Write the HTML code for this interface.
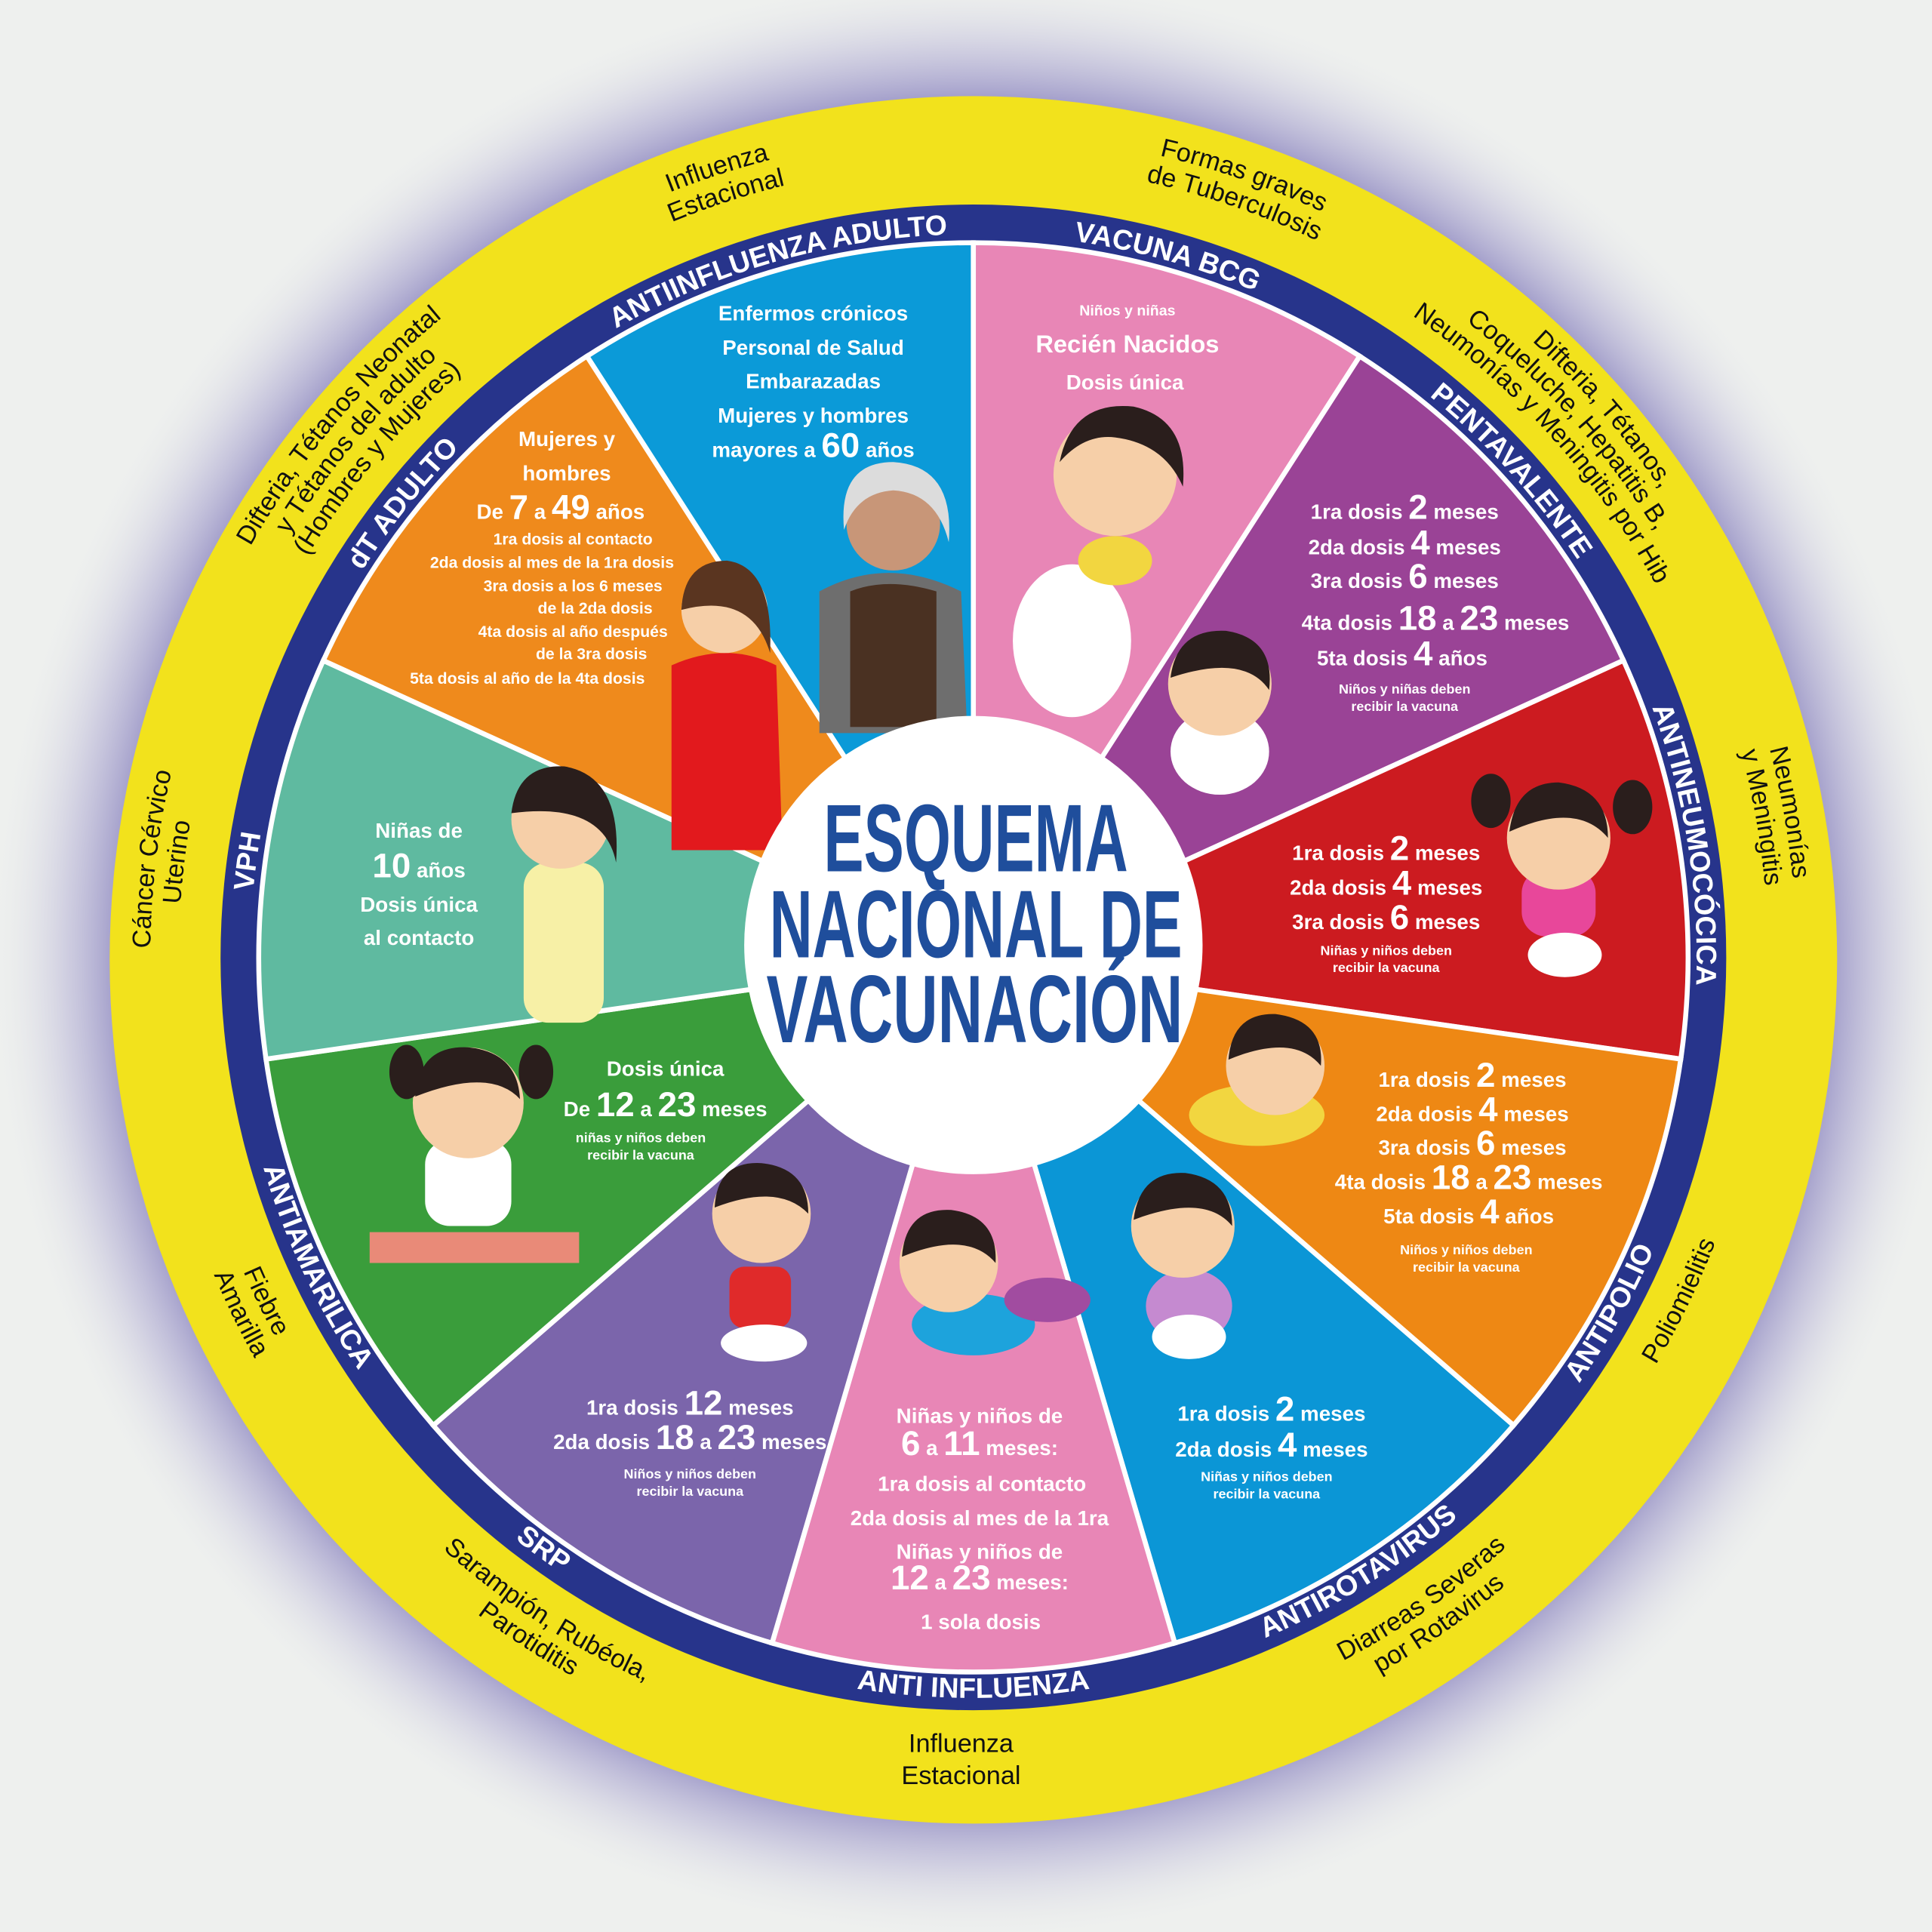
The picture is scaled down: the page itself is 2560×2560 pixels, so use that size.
<!DOCTYPE html>
<html><head><meta charset="utf-8"><style>
html,body{margin:0;padding:0;background:#eef0ee;}
svg{display:block}
.w{fill:#fff;font-family:"Liberation Sans",sans-serif;font-weight:bold;text-anchor:middle}
.rg{fill:#fff;font-family:"Liberation Sans",sans-serif;font-weight:bold;font-size:23px}
.yl{fill:#111;font-family:"Liberation Sans",sans-serif;font-size:21px}
</style></head><body>
<svg width="2560" height="2560" viewBox="0 0 1568 1568" xmlns="http://www.w3.org/2000/svg">
<defs>
<radialGradient id="halo" cx="790" cy="777" r="800" gradientUnits="userSpaceOnUse">
<stop offset="0.84" stop-color="#6e66b0" stop-opacity="0.9"/>
<stop offset="0.92" stop-color="#a9a4d0" stop-opacity="0.45"/>
<stop offset="1" stop-color="#eef0ee" stop-opacity="0"/>
</radialGradient>
<path id="cw587" d="M790,1364 A587,587 0 1 1 790,190 A587,587 0 1 1 790,1364"/>
<path id="cw631" d="M790,1408 A631,631 0 1 1 790,146 A631,631 0 1 1 790,1408"/>
<path id="cw645" d="M790,1422 A645,645 0 1 1 790,132 A645,645 0 1 1 790,1422"/>
<path id="cw653" d="M790,1430 A653,653 0 1 1 790,124 A653,653 0 1 1 790,1430"/>
<path id="cw668" d="M790,1445 A668,668 0 1 1 790,109 A668,668 0 1 1 790,1445"/>
<path id="cw675" d="M790,1452 A675,675 0 1 1 790,102 A675,675 0 1 1 790,1452"/>
<path id="ccw601" d="M790,176 A601,601 0 1 0 790,1378 A601,601 0 1 0 790,176"/>
<path id="ccw645" d="M790,132 A645,645 0 1 0 790,1422 A645,645 0 1 0 790,132"/>
<path id="ccw668" d="M790,109 A668,668 0 1 0 790,1445 A668,668 0 1 0 790,109"/>
<path id="wedge" d="M790,777 L790,197 A580,580 0 0 1 1103.5,289 Z"/>
</defs>
<rect width="1568" height="1568" fill="#eef0ee"/>
<circle cx="790" cy="777" r="800" fill="url(#halo)"/>
<circle cx="790" cy="779" r="701" fill="#f2e21c"/>
<circle cx="790" cy="777" r="611" fill="#27348b"/>
<g stroke="#fff" stroke-width="4">
<use href="#wedge" fill="#e886b6"/>
<use href="#wedge" fill="#9a4396" transform="rotate(32.727 790 777)"/>
<use href="#wedge" fill="#cc1b20" transform="rotate(65.455 790 777)"/>
<use href="#wedge" fill="#ee8814" transform="rotate(98.182 790 777)"/>
<use href="#wedge" fill="#0b96d6" transform="rotate(130.909 790 777)"/>
<use href="#wedge" fill="#e886b6" transform="rotate(163.636 790 777)"/>
<use href="#wedge" fill="#7b65ab" transform="rotate(196.364 790 777)"/>
<use href="#wedge" fill="#3a9d3b" transform="rotate(229.091 790 777)"/>
<use href="#wedge" fill="#5fbaa0" transform="rotate(261.818 790 777)"/>
<use href="#wedge" fill="#ef8a1c" transform="rotate(294.545 790 777)"/>
<use href="#wedge" fill="#0b9ad8" transform="rotate(327.273 790 777)"/>
</g>

<!-- figures -->
<g>
<!-- BCG baby -->
<ellipse cx="870" cy="520" rx="48" ry="62" fill="#fff"/>
<ellipse cx="905" cy="455" rx="30" ry="20" fill="#f2d640"/>
<circle cx="905" cy="385" r="50" fill="#f6cfa8"/>
<path d="M860,375 Q870,325 920,330 Q965,340 960,395 Q945,360 905,355 Q880,352 860,375Z" fill="#2a1e1c"/>
<!-- penta baby -->
<ellipse cx="990" cy="610" rx="40" ry="35" fill="#fff"/>
<circle cx="990" cy="555" r="42" fill="#f6cfa8"/>
<path d="M950,550 Q955,510 995,512 Q1035,518 1030,560 Q1010,530 950,550Z" fill="#2a1e1c"/>
<!-- red girl -->
<rect x="1235" y="705" width="60" height="55" rx="20" fill="#e8479a"/>
<ellipse cx="1270" cy="775" rx="30" ry="18" fill="#fff"/>
<circle cx="1265" cy="680" r="42" fill="#f6cfa8"/>
<path d="M1225,675 Q1230,635 1265,635 Q1305,640 1305,680 Q1280,650 1225,675Z" fill="#2a1e1c"/>
<ellipse cx="1210" cy="650" rx="16" ry="22" fill="#2a1e1c"/>
<ellipse cx="1325" cy="655" rx="16" ry="22" fill="#2a1e1c"/>
<!-- polio baby -->
<ellipse cx="1020" cy="905" rx="55" ry="25" fill="#f2d640"/>
<circle cx="1035" cy="865" r="40" fill="#f6cfa8"/>
<path d="M997,860 Q1000,822 1035,823 Q1075,828 1072,865 Q1050,838 997,860Z" fill="#2a1e1c"/>
<!-- rotavirus girl -->
<ellipse cx="965" cy="1060" rx="35" ry="30" fill="#c58ad0"/>
<ellipse cx="965" cy="1085" rx="30" ry="18" fill="#fff"/>
<circle cx="960" cy="995" r="42" fill="#f6cfa8"/>
<path d="M920,990 Q925,950 962,952 Q1000,957 1000,995 Q978,968 920,990Z" fill="#2a1e1c"/>
<!-- anti influenza baby -->
<ellipse cx="790" cy="1075" rx="50" ry="25" fill="#1da3dc"/>
<ellipse cx="850" cy="1055" rx="35" ry="18" fill="#a14ca0"/>
<circle cx="770" cy="1025" r="40" fill="#f6cfa8"/>
<path d="M732,1020 Q735,980 772,982 Q810,987 808,1025 Q785,998 732,1020Z" fill="#2a1e1c"/>
<!-- SRP kid -->
<rect x="592" y="1028" width="50" height="50" rx="12" fill="#e02a2a"/>
<ellipse cx="620" cy="1090" rx="35" ry="15" fill="#fff"/>
<circle cx="618" cy="985" r="40" fill="#f6cfa8"/>
<path d="M580,980 Q582,942 618,944 Q656,948 656,985 Q632,960 580,980Z" fill="#2a1e1c"/>
<!-- green girl -->
<rect x="345" y="925" width="70" height="70" rx="20" fill="#fff"/>
<path d="M300,1000 L470,1000 L470,1025 L300,1025Z" fill="#e98a78"/>
<circle cx="380" cy="895" r="45" fill="#f6cfa8"/>
<path d="M337,890 Q340,848 380,850 Q420,854 422,892 Q398,866 337,890Z" fill="#2a1e1c"/>
<ellipse cx="330" cy="870" rx="14" ry="22" fill="#2a1e1c"/>
<ellipse cx="435" cy="870" rx="14" ry="22" fill="#2a1e1c"/>
<!-- teal girl -->
<rect x="425" y="700" width="65" height="130" rx="20" fill="#f7f0a6"/>
<circle cx="455" cy="665" r="40" fill="#f6cfa8"/>
<path d="M415,660 Q420,620 458,622 Q505,630 500,700 Q490,650 415,660Z" fill="#2a1e1c"/>
<!-- dT woman -->
<path d="M545,540 Q590,520 630,540 L635,690 L545,690Z" fill="#e2191d"/>
<circle cx="588" cy="495" r="35" fill="#f6cfa8"/>
<path d="M553,495 Q555,455 590,455 Q628,460 625,530 Q610,480 553,495Z" fill="#5a3520"/>
<!-- elder -->
<path d="M665,480 Q720,450 780,480 L785,595 L665,595Z" fill="#6e6e6e"/>
<path d="M690,480 Q720,468 760,480 L760,590 L690,590Z" fill="#4a3122"/>
<circle cx="725" cy="425" r="38" fill="#c89678"/>
<path d="M685,430 Q680,375 725,375 Q775,378 770,440 Q760,400 725,398 Q695,400 685,430Z" fill="#dcdcdc"/>
</g>

<!-- center -->
<circle cx="790" cy="767" r="186" fill="#fff"/>
<g font-family="'Liberation Sans Narrow','Liberation Sans',sans-serif" font-weight="bold" fill="#1f4e9c" font-size="78" text-anchor="middle">
<text x="792" y="707" textLength="247" lengthAdjust="spacingAndGlyphs">ESQUEMA</text>
<text x="792" y="777" textLength="335" lengthAdjust="spacingAndGlyphs">NACIONAL DE</text>
<text x="791" y="846" textLength="338" lengthAdjust="spacingAndGlyphs">VACUNACIÓN</text>
</g>

<!-- ring labels -->
<g class="rg" text-anchor="middle">
<text><textPath href="#cw587" startOffset="54.3%">VACUNA BCG</textPath></text>
<text><textPath href="#cw587" startOffset="63.3%">PENTAVALENTE</textPath></text>
<text><textPath href="#cw587" startOffset="72.5%">ANTINEUMOCÓCICA</textPath></text>
<text><textPath href="#cw587" startOffset="27.1%">VPH</textPath></text>
<text><textPath href="#cw587" startOffset="35.7%">dT ADULTO</textPath></text>
<text><textPath href="#cw587" startOffset="45.6%">ANTIINFLUENZA ADULTO</textPath></text>
<text><textPath href="#ccw601" startOffset="66.9%">ANTIPOLIO</textPath></text>
<text><textPath href="#ccw601" startOffset="58.9%">ANTIROTAVIRUS</textPath></text>
<text><textPath href="#ccw601" startOffset="50%">ANTI INFLUENZA</textPath></text>
<text><textPath href="#ccw601" startOffset="40%">SRP</textPath></text>
<text><textPath href="#ccw601" startOffset="32%">ANTIAMARILICA</textPath></text>
</g>

<!-- yellow labels -->
<g class="yl" text-anchor="middle">
<text><textPath href="#cw668" startOffset="55.3%">Formas graves</textPath></text>
<text><textPath href="#cw645" startOffset="55.3%">de Tuberculosis</textPath></text>
<text><textPath href="#cw675" startOffset="63.6%">Difteria, Tétanos,</textPath></text>
<text><textPath href="#cw653" startOffset="63.3%">Coqueluche, Hepatitis B,</textPath></text>
<text><textPath href="#cw631" startOffset="63.3%">Neumonías y Meningitis por Hib</textPath></text>
<text><textPath href="#cw668" startOffset="72.2%">Neumonías</textPath></text>
<text><textPath href="#cw645" startOffset="72.2%">y Meningitis</textPath></text>
<text><textPath href="#cw668" startOffset="26.9%">Cáncer Cérvico</textPath></text>
<text><textPath href="#cw645" startOffset="26.9%">Uterino</textPath></text>
<text><textPath href="#cw675" startOffset="36.1%">Difteria, Tétanos Neonatal</textPath></text>
<text><textPath href="#cw653" startOffset="36.1%">y Tétanos del adulto</textPath></text>
<text><textPath href="#cw631" startOffset="36.1%">(Hombres y Mujeres)</textPath></text>
<text><textPath href="#cw668" startOffset="45%">Influenza</textPath></text>
<text><textPath href="#cw645" startOffset="45%">Estacional</textPath></text>
<text><textPath href="#ccw645" startOffset="67.8%">Poliomielitis</textPath></text>
<text><textPath href="#ccw645" startOffset="59.7%">Diarreas Severas</textPath></text>
<text><textPath href="#ccw668" startOffset="59.7%">por Rotavirus</textPath></text>
<text><textPath href="#ccw645" startOffset="40.8%">Sarampión, Rubéola,</textPath></text>
<text><textPath href="#ccw668" startOffset="40.8%">Parotiditis</textPath></text>
<text><textPath href="#ccw645" startOffset="32.2%">Fiebre</textPath></text>
<text><textPath href="#ccw668" startOffset="32.2%">Amarilla</textPath></text>
<text x="780" y="1422">Influenza</text>
<text x="780" y="1448">Estacional</text>
</g>

<!-- sector texts -->
<g class="w" font-size="17">
<text x="915" y="256" font-size="12">Niños y niñas</text>
<text x="915" y="286" font-size="20">Recién Nacidos</text>
<text x="913" y="316">Dosis única</text>

<text x="1140" y="421">1ra dosis <tspan font-size="28">2</tspan> meses</text>
<text x="1140" y="450">2da dosis <tspan font-size="28">4</tspan> meses</text>
<text x="1140" y="477">3ra dosis <tspan font-size="28">6</tspan> meses</text>
<text x="1165" y="511">4ta dosis <tspan font-size="28">18</tspan> a <tspan font-size="28">23</tspan> meses</text>
<text x="1138" y="540">5ta dosis <tspan font-size="28">4</tspan> años</text>
<text x="1140" y="563" font-size="11">Niños y niñas deben</text>
<text x="1140" y="577" font-size="11">recibir la vacuna</text>

<text x="1125" y="698">1ra dosis <tspan font-size="28">2</tspan> meses</text>
<text x="1125" y="726">2da dosis <tspan font-size="28">4</tspan> meses</text>
<text x="1125" y="754">3ra dosis <tspan font-size="28">6</tspan> meses</text>
<text x="1125" y="775" font-size="11">Niñas y niños deben</text>
<text x="1125" y="789" font-size="11">recibir la vacuna</text>

<text x="1195" y="882">1ra dosis <tspan font-size="28">2</tspan> meses</text>
<text x="1195" y="910">2da dosis <tspan font-size="28">4</tspan> meses</text>
<text x="1195" y="937">3ra dosis <tspan font-size="28">6</tspan> meses</text>
<text x="1192" y="965">4ta dosis <tspan font-size="28">18</tspan> a <tspan font-size="28">23</tspan> meses</text>
<text x="1192" y="993">5ta dosis <tspan font-size="28">4</tspan> años</text>
<text x="1190" y="1018" font-size="11">Niños y niños deben</text>
<text x="1190" y="1032" font-size="11">recibir la vacuna</text>

<text x="1032" y="1153">1ra dosis <tspan font-size="28">2</tspan> meses</text>
<text x="1032" y="1182">2da dosis <tspan font-size="28">4</tspan> meses</text>
<text x="1028" y="1202" font-size="11">Niñas y niños deben</text>
<text x="1028" y="1216" font-size="11">recibir la vacuna</text>

<text x="795" y="1155">Niñas y niños de</text>
<text x="795" y="1181"><tspan font-size="28">6</tspan> a <tspan font-size="28">11</tspan> meses:</text>
<text x="797" y="1210">1ra dosis al contacto</text>
<text x="795" y="1238">2da dosis al mes de la 1ra</text>
<text x="795" y="1265">Niñas y niños de</text>
<text x="795" y="1290"><tspan font-size="28">12</tspan> a <tspan font-size="28">23</tspan> meses:</text>
<text x="796" y="1322">1 sola dosis</text>

<text x="560" y="1148">1ra dosis <tspan font-size="28">12</tspan> meses</text>
<text x="560" y="1176">2da dosis <tspan font-size="28">18</tspan> a <tspan font-size="28">23</tspan> meses</text>
<text x="560" y="1200" font-size="11">Niños y niños deben</text>
<text x="560" y="1214" font-size="11">recibir la vacuna</text>

<text x="540" y="873">Dosis única</text>
<text x="540" y="906">De <tspan font-size="28">12</tspan> a <tspan font-size="28">23</tspan> meses</text>
<text x="520" y="927" font-size="11">niñas y niños deben</text>
<text x="520" y="941" font-size="11">recibir la vacuna</text>

<text x="340" y="680">Niñas de</text>
<text x="340" y="712"><tspan font-size="28">10</tspan> años</text>
<text x="340" y="740">Dosis única</text>
<text x="340" y="767">al contacto</text>

<text x="460" y="362">Mujeres y</text>
<text x="460" y="390">hombres</text>
<text x="455" y="421">De <tspan font-size="28">7</tspan> a <tspan font-size="28">49</tspan> años</text>
<text x="465" y="442" font-size="13">1ra dosis al contacto</text>
<text x="448" y="461" font-size="13">2da dosis al mes de la 1ra dosis</text>
<text x="465" y="480" font-size="13">3ra dosis a los 6 meses</text>
<text x="483" y="498" font-size="13">de la 2da dosis</text>
<text x="465" y="517" font-size="13">4ta dosis al año después</text>
<text x="480" y="535" font-size="13">de la 3ra dosis</text>
<text x="428" y="555" font-size="13">5ta dosis al año de la 4ta dosis</text>

<text x="660" y="260">Enfermos crónicos</text>
<text x="660" y="288">Personal de Salud</text>
<text x="660" y="315">Embarazadas</text>
<text x="660" y="343">Mujeres y hombres</text>
<text x="660" y="371">mayores a <tspan font-size="28">60</tspan> años</text>
</g>
</svg>
</body></html>
